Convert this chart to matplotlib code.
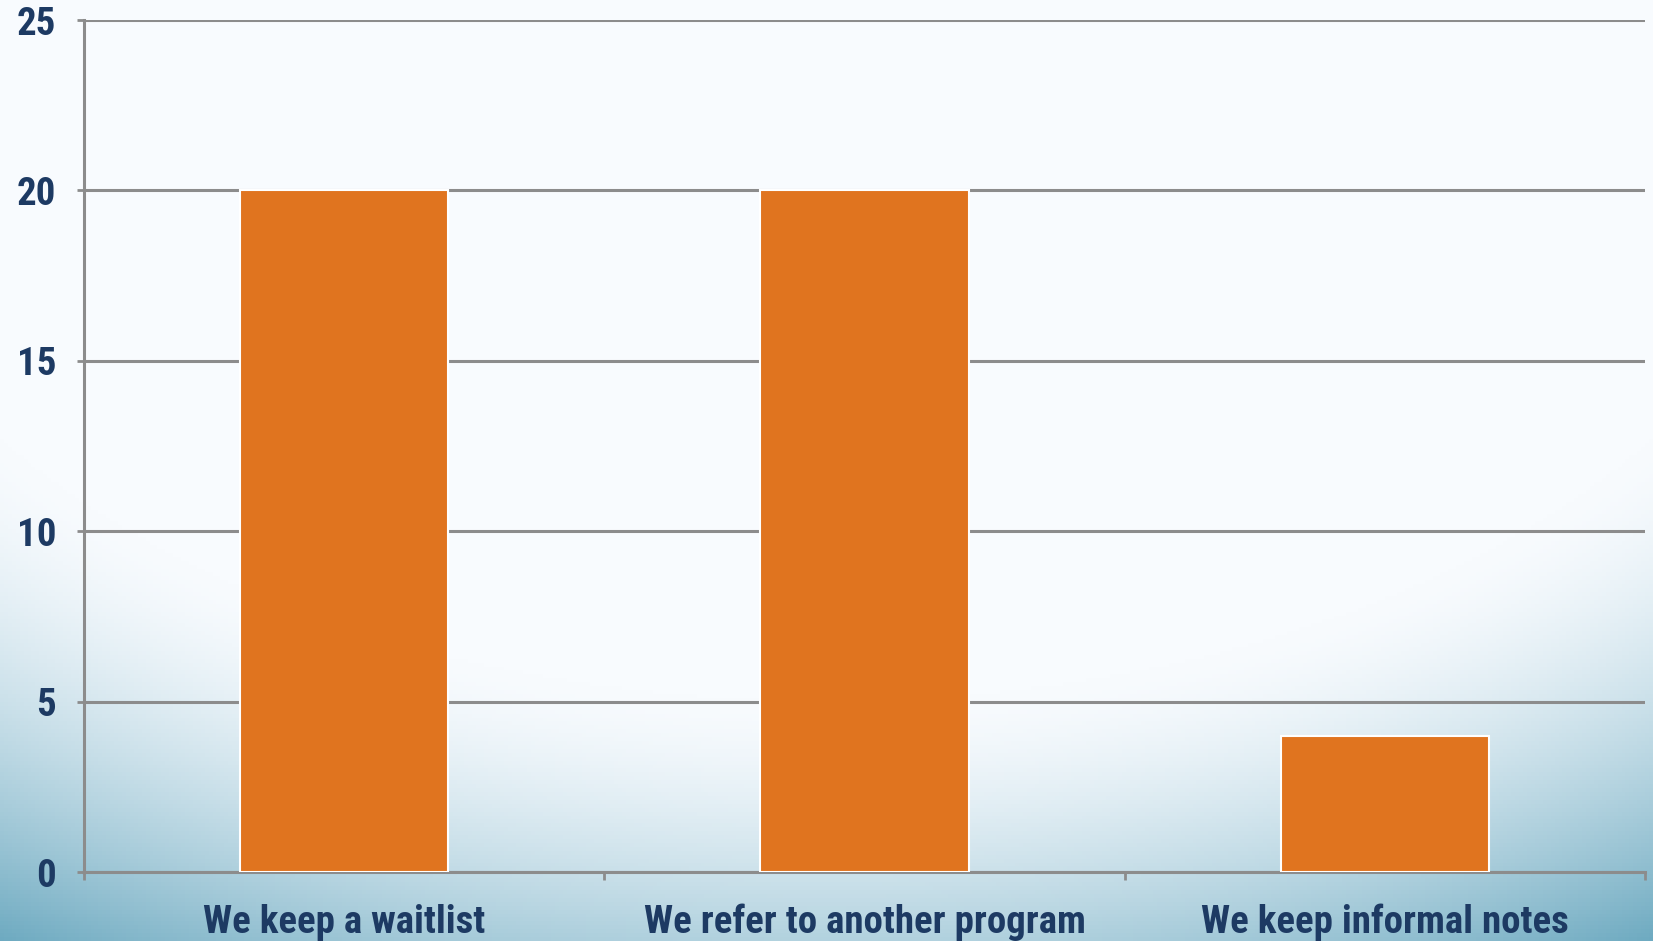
import numpy as np
import matplotlib.pyplot as plt
from matplotlib.colors import to_rgb

categories = ["We keep a waitlist", "We refer to another program", "We keep informal notes"]
counts = [20, 20, 4]
yticks = [0, 5, 10, 15, 20, 25]

navy = "#1d3a63"
orange = "#e0741f"
gridc = "#8c8c8c"
fam = ["Roboto Condensed", "Roboto", "DejaVu Sans"]

fig = plt.figure(figsize=(16.53, 9.41), dpi=100)

# background: white top, blue creeping in from the lower corners
bg = fig.add_axes([0, 0, 1, 1], zorder=-10)
h, w = 240, 420
yy, xx = np.mgrid[0:1:h * 1j, 0:1:w * 1j]
white = np.array(to_rgb("#f8fbfe"))
blue = np.array(to_rgb("#6aa8bf"))
r = np.sqrt(((xx - 0.5) / 0.8) ** 2 + ((yy - 0.1) / 0.85) ** 2)
amt = np.clip((r - 0.76) / 0.48, 0, 1) ** 1.5
img = white * (1 - amt[..., None]) + blue * amt[..., None]
bg.imshow(img, aspect="auto", extent=[0, 1, 0, 1], origin="upper")
bg.axis("off")

ax = fig.add_axes([0.0508, 0.0733, 0.9444, 0.9054])
ax.set_facecolor("none")
x = np.arange(len(categories))
ax.bar(x, counts, width=0.4, color=orange, edgecolor="white", linewidth=1.5, zorder=3)

ax.set_xlim(-0.5, len(categories) - 0.5)
ax.set_ylim(0, 25)
ax.set_yticks(yticks)
ax.set_yticklabels([str(v) for v in yticks])
ax.set_xticks(np.arange(-0.5, len(categories), 1.0))
ax.set_xticklabels([])
ax.set_xticks(x, minor=True)
ax.set_xticklabels(categories, minor=True)

ax.grid(axis="y", color=gridc, linewidth=2.2, zorder=0)
ax.set_axisbelow(True)
for s in ["top", "right"]:
    ax.spines[s].set_visible(False)
for s in ["left", "bottom"]:
    ax.spines[s].set_color(gridc)
    ax.spines[s].set_linewidth(2.2)

ax.tick_params(axis="y", length=5, width=2, color=gridc, pad=15,
               labelcolor=navy, labelsize=28)
ax.tick_params(axis="x", which="major", length=6, width=2, color=gridc)
ax.tick_params(axis="x", which="minor", length=0, pad=23,
               labelcolor=navy, labelsize=28)
for lab in ax.get_yticklabels() + ax.get_xticklabels(minor=True):
    lab.set_family(fam)
    lab.set_fontweight("bold")
    lab.set_fontstretch("condensed")

fig.savefig("out.png", dpi=100)
